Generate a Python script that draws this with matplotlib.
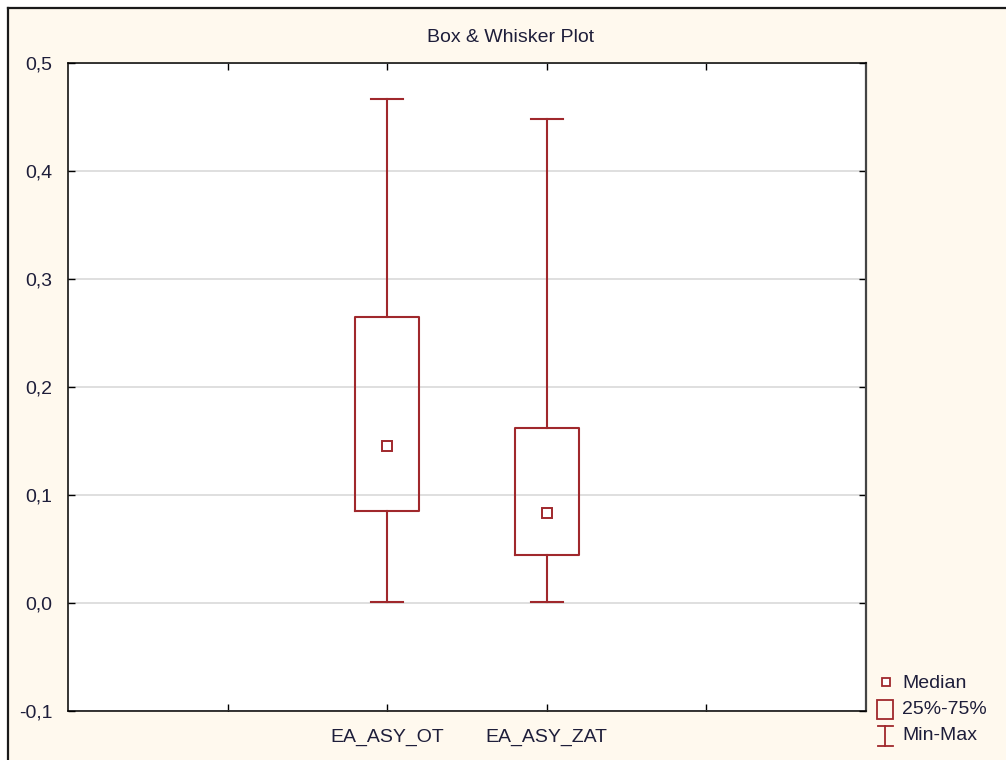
import matplotlib
matplotlib.use("Agg")
import matplotlib.pyplot as plt
from matplotlib.patches import Rectangle
from matplotlib.lines import Line2D

plt.rcParams["font.family"] = ["Liberation Sans", "DejaVu Sans"]

# box & whisker stats
variables = ["EA_ASY_OT", "EA_ASY_ZAT"]
positions = [2, 3]
minimum = [0.001, 0.001]
q1 = [0.085, 0.044]
median = [0.145, 0.083]
q3 = [0.265, 0.162]
maximum = [0.467, 0.448]

yticks = [-0.1, 0.0, 0.1, 0.2, 0.3, 0.4, 0.5]
ytick_labels = ["-0,1", "0,0", "0,1", "0,2", "0,3", "0,4", "0,5"]

BOX_COLOR = "#A0282C"
BG = "#FFF9EE"
TEXT = "#1E1E3A"
FS = 14
W, H = 1006, 760

fig = plt.figure(figsize=(W / 100, H / 100), dpi=100, facecolor="white")

# cream window area with dark frame on top/left
bg = fig.add_axes([0, 0, 1, 1])
bg.set_xlim(0, W)
bg.set_ylim(H, 0)
bg.axis("off")
bg.add_patch(Rectangle((8, 8), W, H, facecolor=BG, edgecolor="none", zorder=0))
bg.add_line(Line2D([8, W], [8, 8], color="#1a1a1a", lw=1.6))
bg.add_line(Line2D([8, 8], [8, H], color="#1a1a1a", lw=1.6))

ax = fig.add_axes([68 / W, (H - 711) / H, (866 - 68) / W, (711 - 63) / H])
ax.set_facecolor("white")

stats = [
    dict(whislo=lo, q1=a, med=m, q3=b, whishi=hi, label=lab)
    for lo, a, m, b, hi, lab in zip(minimum, q1, median, q3, maximum, variables)
]
ax.bxp(stats, positions=positions, widths=0.4, capwidths=0.2,
       showfliers=False, patch_artist=False,
       boxprops=dict(color=BOX_COLOR, lw=1.5),
       whiskerprops=dict(color=BOX_COLOR, lw=1.5),
       capprops=dict(color=BOX_COLOR, lw=1.5),
       medianprops=dict(linestyle="none"), zorder=3)
ax.plot(positions, median, "s", ms=7, mfc="white", mec=BOX_COLOR, mew=1.4,
        linestyle="none", zorder=4)

ax.set_xlim(0, 5)
ax.set_ylim(-0.1, 0.5)
ax.set_xticks([1, 2, 3, 4])
ax.set_xticklabels(["", variables[0], variables[1], ""])
ax.set_yticks(yticks)
ax.set_yticklabels(ytick_labels)
ax.yaxis.grid(True, color="#dcdcdc", lw=1.3, zorder=0)
ax.set_axisbelow(True)
ax.tick_params(axis="both", direction="in", length=5, width=1.0,
               top=True, right=True, labelsize=FS, labelcolor=TEXT,
               color="black")
ax.tick_params(axis="x", pad=13)
ax.tick_params(axis="y", pad=11)
for s in ax.spines.values():
    s.set_color("black")
    s.set_linewidth(1.1)
ax.spines["right"].set_color("#444444")
ax.spines["right"].set_linewidth(1.6)

fig.text(511 / W, 1 - 37 / H, "Box & Whisker Plot", ha="center", va="center",
         fontsize=FS, color=TEXT)

# legend drawn by hand in pixel space
bg.add_patch(Rectangle((882, 678), 8, 8, facecolor="white",
                       edgecolor=BOX_COLOR, lw=1.3, zorder=5))
bg.text(902, 684, "Median", va="center", ha="left", fontsize=FS, color=TEXT)
bg.add_patch(Rectangle((877, 700), 16, 19, facecolor="none",
                       edgecolor=BOX_COLOR, lw=1.3, zorder=5))
bg.text(902, 709, "25%-75%", va="center", ha="left", fontsize=FS, color=TEXT)
bg.add_line(Line2D([885, 885], [726, 746], color=BOX_COLOR, lw=1.3))
bg.add_line(Line2D([878, 893], [726, 726], color=BOX_COLOR, lw=1.3))
bg.add_line(Line2D([878, 893], [746, 746], color=BOX_COLOR, lw=1.3))
bg.text(902, 736, "Min-Max", va="center", ha="left", fontsize=FS, color=TEXT)

fig.savefig("out.png", dpi=100, facecolor=fig.get_facecolor())
